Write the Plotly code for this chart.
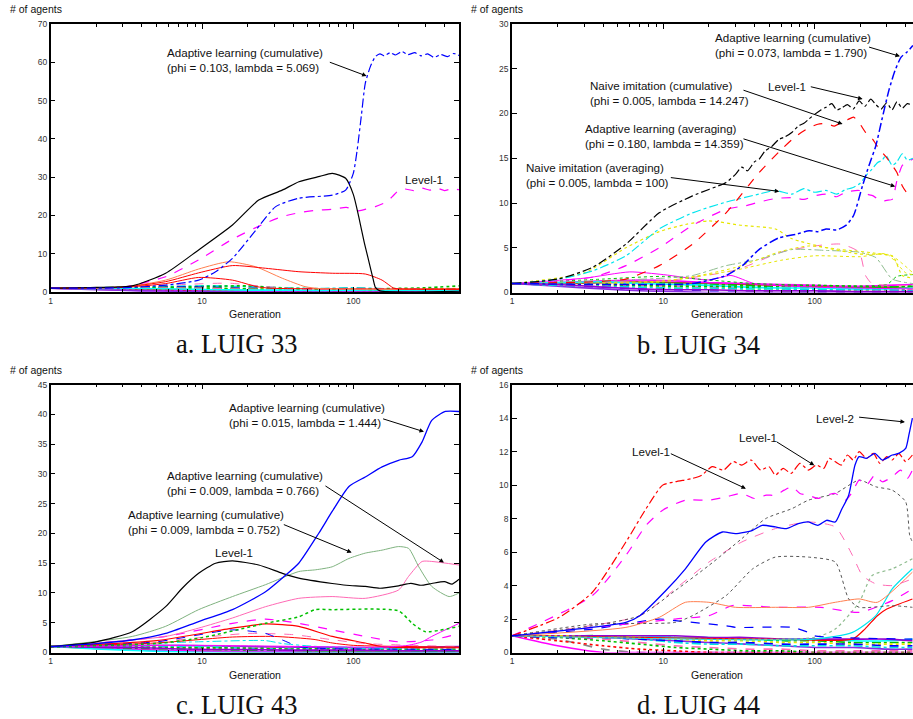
import math
import plotly.graph_objects as go

# ---------------------------------------------------------------- data
# Panel a  (LUIG 33)
A_BLUE_GEN = [1, 3, 5.75, 9.5, 12.3, 15.9, 22, 30.7, 43.7, 72.6, 89, 100, 106, 113, 120, 130, 140, 150, 160, 175, 190, 210, 230, 255, 280, 310, 340, 380, 420, 460, 500]
A_BLUE_VAL = [1.0, 1.1, 1.8, 3.1, 5.3, 8.8, 15.5, 22.3, 24.5, 25.3, 26.6, 31, 37, 46, 54.5, 59, 61.5, 62.2, 61.7, 62.5, 61.9, 62.8, 62.0, 62.5, 61.7, 62.2, 61.3, 62.0, 61.5, 62.3, 61.8]
A_BLACK_GEN = [1, 2, 3.46, 5.75, 9.5, 15.9, 23.7, 33.9, 43.7, 60, 72.6, 89, 100, 108.6, 118, 126, 135, 140, 150, 500]
A_BLACK_VAL = [1.0, 1.2, 1.6, 4.9, 11, 17.5, 24, 26.6, 28.8, 30.2, 31, 29.7, 25.5, 19.7, 13, 8.4, 3.5, 1.2, 0.3, 0.2]
A_MAG_GEN = [1, 3, 5.75, 9.5, 15.9, 26.3, 33.9, 43.7, 55, 72.6, 90, 108.6, 125, 140, 165, 181, 199, 220, 250, 280, 320, 360, 400, 450, 500]
A_MAG_VAL = [1.0, 1.3, 4.0, 8.4, 13.8, 18.0, 19.7, 20.7, 21.3, 21.6, 22.1, 21.2, 21.8, 22.3, 23.5, 24.9, 26.5, 26.9, 26.5, 27.2, 26.6, 27.1, 26.5, 27.0, 26.7]
A_CORAL_GEN = [1, 3, 5.75, 9.5, 15, 22.6, 33.9, 48, 60, 500]
A_CORAL_VAL = [1.0, 1.3, 3.1, 6.0, 7.9, 6.6, 3.6, 1.4, 0.9, 0.7]
A_RED_GEN = [1, 3, 5.75, 9.5, 15.9, 26.3, 43.7, 72.6, 120, 155, 185, 200, 500]
A_RED_VAL = [1.0, 1.3, 2.7, 5.0, 6.9, 6.2, 5.3, 4.9, 4.7, 3.1, 1.0, 0.8, 0.7]
A_RED2_GEN = [1, 3, 5.75, 9.5, 15.9, 23, 28, 500]
A_RED2_VAL = [1.0, 1.2, 2.2, 3.8, 3.1, 1.4, 1.0, 0.8]
A_PINK_GEN = [1, 4, 8, 15, 25, 40, 500]
A_PINK_VAL = [1.0, 1.4, 2.0, 2.3, 1.5, 0.9, 0.6]
A_CL_GEN = [1, 2, 4, 7, 12, 20, 35, 60, 100, 180, 300, 500]
A_CL1 = [1.0, 1.1, 1.3, 1.5, 1.6, 1.4, 1.1, 0.9, 1.1, 0.8, 0.8, 0.8]
A_CL2 = [1.0, 1.0, 1.2, 1.3, 1.5, 1.6, 1.0, 0.8, 0.7, 0.9, 1.1, 1.6]
A_CL3 = [1.0, 0.9, 0.8, 0.6, 0.5, 0.4, 0.3, 0.3, 0.2, 0.2, 0.2, 0.2]
A_CL4 = [1.0, 1.0, 0.9, 0.8, 0.9, 0.7, 0.6, 0.6, 0.5, 0.6, 0.6, 0.7]
A_CL5 = [1.0, 1.0, 1.1, 1.3, 1.2, 1.0, 0.8, 0.6, 0.5, 0.4, 0.4, 0.4]
A_CL6 = [1.0, 0.8, 0.6, 0.5, 0.4, 0.3, 0.2, 0.2, 0.1, 0.1, 0.1, 0.1]
A_CL7 = [1.0, 0.9, 0.8, 0.7, 0.7, 0.8, 0.9, 0.8, 0.7, 0.6, 0.8, 0.9]
A_CL8 = [1.0, 1.0, 0.9, 0.9, 1.0, 0.9, 0.8, 0.8, 0.9, 0.8, 0.7, 0.7]
A_CL9 = [1.0, 0.7, 0.4, 0.3, 0.2, 0.1, 0.1, 0.0, 0.0, 0.0, 0.0, 0.0]
A_CL10 = [1.0, 0.9, 0.7, 0.5, 0.4, 0.4, 0.3, 0.3, 0.3, 0.3, 0.3, 0.3]
A_CL11 = [1.0, 0.6, 0.3, 0.2, 0.1, 0.0, 0.0, 0.0, 0.0, 0.0, 0.0, 0.0]
A_CL12 = [1.0, 1.1, 1.2, 1.1, 1.0, 0.8, 0.6, 0.5, 0.5, 0.5, 0.5, 0.6]
A_CL13 = [1.0, 1.0, 1.0, 1.0, 0.9, 0.7, 0.6, 0.6, 0.6, 0.7, 0.6, 0.5]
A_CL14 = [1.0, 0.9, 0.9, 0.8, 0.6, 0.5, 0.5, 0.4, 0.5, 0.5, 0.4, 0.4]

# Panel b  (LUIG 34)
B_BLUE_GEN = [1, 5, 15.6, 26, 33.3, 42.9, 58, 75, 92, 105, 119, 140, 161, 181, 207, 230, 254, 280, 311, 340, 373, 410, 446]
B_BLUE_VAL = [1.0, 0.9, 1.0, 1.9, 3.0, 4.8, 6.1, 6.5, 6.9, 6.8, 7.1, 7.0, 7.5, 8.6, 11.9, 14.3, 16.4, 19.5, 22.7, 24.8, 26.3, 26.9, 27.6]
B_BLACK_GEN = [1, 2, 3.4, 5.66, 9.4, 15.6, 26, 30, 33, 36, 40, 43, 47, 52, 58, 64, 71, 78, 85, 92, 100, 110, 119, 130, 140, 150, 165, 180, 197, 215, 235, 254, 275, 300, 325, 350, 380, 410, 446]
B_BLACK_VAL = [1.0, 1.5, 2.8, 5.4, 8.9, 10.8, 12.3, 13.2, 14.0, 13.6, 14.6, 14.9, 15.8, 16.3, 17.1, 17.4, 17.9, 18.6, 18.9, 19.4, 19.9, 20.4, 20.7, 21.1, 20.4, 20.6, 21.0, 20.5, 21.4, 20.8, 21.6, 21.0, 20.5, 21.2, 20.4, 21.3, 20.6, 21.1, 20.9]
B_RED_GEN = [1, 3.4, 5.66, 9.4, 15.6, 26, 43, 58, 71, 82, 92, 105, 119, 135, 152, 165, 181, 200, 217, 240, 268, 295, 326, 350, 380, 410, 446]
B_RED_VAL = [1.0, 1.2, 1.5, 3.0, 5.4, 8.9, 13.4, 15.7, 17.1, 17.9, 18.4, 18.8, 18.9, 18.6, 19.1, 19.3, 19.6, 18.8, 17.9, 17.2, 16.0, 15.2, 14.2, 13.4, 11.9, 11.1, 10.8]
B_CYAN_GEN = [1, 2.05, 3.4, 5.66, 9.4, 15.6, 26, 43, 55, 71, 85, 100, 119, 140, 160, 178, 200, 217, 240, 260, 280, 296, 326, 350, 380, 410, 446]
B_CYAN_VAL = [1.0, 1.5, 2.4, 4.1, 7.1, 8.9, 10.1, 11.0, 11.4, 11.0, 11.6, 11.2, 11.4, 11.0, 11.5, 11.7, 12.2, 13.0, 13.8, 14.5, 14.8, 15.3, 14.2, 14.6, 15.5, 14.8, 15.0]
B_MAG_GEN = [1, 3.4, 5.66, 9.4, 15.6, 26, 35, 43, 55, 71, 85, 100, 119, 140, 160, 197, 220, 244, 275, 300, 326, 350, 380, 410, 446]
B_MAG_VAL = [1.0, 1.7, 3.0, 5.0, 7.5, 9.3, 9.7, 10.1, 10.5, 10.6, 10.4, 10.8, 11.0, 10.7, 11.2, 11.4, 11.0, 10.8, 10.2, 10.3, 10.4, 12.5, 14.2, 14.6, 14.9]
B_YEL1_GEN = [1, 3, 5.66, 9.4, 14, 20, 33, 55, 71, 119, 197, 326, 380, 446]
B_YEL1_VAL = [1.0, 2.2, 5.0, 6.8, 7.6, 8.0, 7.5, 7.1, 6.0, 5.0, 4.3, 4.1, 1.9, 1.6]
B_YEL2_GEN = [1, 10, 30, 60, 100, 200, 300, 400, 446]
B_YEL2_VAL = [1.0, 1.3, 2.5, 3.6, 4.1, 4.0, 4.3, 2.2, 2.0]
B_YEL3_GEN = [1, 10, 30, 60, 92, 150, 250, 330, 446]
B_YEL3_VAL = [1.0, 1.2, 2.8, 4.6, 5.2, 4.8, 4.4, 4.0, 2.2]
B_GREY_GEN = [1, 10, 15.6, 26, 43, 71, 119, 197, 254, 326, 446]
B_GREY_VAL = [1.0, 1.6, 1.9, 3.0, 3.7, 4.8, 4.7, 4.5, 3.9, 1.5, 1.0]
B_PINK_GEN = [1, 10, 30, 60, 100, 150, 197, 217, 240, 446]
B_PINK_VAL = [1.0, 1.3, 2.5, 4.5, 5.2, 5.4, 4.5, 1.9, 1.0, 0.8]
B_GREEN_GEN = [1, 4, 10, 20, 40, 100, 300, 350, 446]
B_GREEN_VAL = [1.0, 1.5, 1.8, 1.4, 1.0, 0.8, 0.9, 1.8, 2.0]
B_MAGS_GEN = [1, 3, 6, 10, 20, 28, 40, 100, 446]
B_MAGS_VAL = [1.0, 1.6, 2.3, 2.0, 1.4, 1.9, 1.0, 0.6, 0.4]
B_CL_GEN = [1, 2, 4, 7, 12, 20, 35, 60, 100, 180, 300, 446]
B_CL1 = [1.0, 0.9, 0.8, 0.7, 0.6, 0.5, 0.4, 0.3, 0.3, 0.2, 0.2, 0.2]
B_CL2 = [1.0, 0.8, 0.6, 0.4, 0.3, 0.2, 0.2, 0.1, 0.1, 0.1, 0.1, 0.1]
B_CL3 = [1.0, 1.0, 1.1, 1.2, 1.1, 1.0, 0.9, 0.8, 0.7, 0.6, 0.6, 0.5]
B_CL4 = [1.0, 1.0, 0.9, 0.9, 0.8, 0.8, 0.7, 0.7, 0.6, 0.6, 0.5, 0.5]
B_CL5 = [1.0, 0.9, 0.7, 0.5, 0.4, 0.3, 0.2, 0.1, 0.0, 0.0, 0.0, 0.0]
B_CL6 = [1.0, 1.1, 1.3, 1.4, 1.3, 1.1, 1.0, 0.9, 0.8, 0.7, 0.8, 0.9]
B_CL7 = [1.0, 0.9, 0.9, 0.8, 0.9, 0.8, 0.8, 0.7, 0.6, 0.5, 0.4, 0.4]
B_CL8 = [1.0, 0.7, 0.4, 0.2, 0.1, 0.0, 0.0, 0.0, 0.0, 0.0, 0.0, 0.0]
B_CL9 = [1.0, 1.0, 1.0, 1.1, 1.0, 0.9, 0.8, 0.6, 0.5, 0.5, 0.6, 0.7]
B_CL10 = [1.0, 0.9, 0.8, 0.8, 0.7, 0.6, 0.6, 0.5, 0.4, 0.4, 0.3, 0.3]
B_CL11 = [1.0, 1.1, 1.2, 1.0, 0.9, 0.8, 0.6, 0.5, 0.5, 0.4, 0.4, 0.5]
B_CL12 = [1.0, 0.8, 0.7, 0.6, 0.5, 0.5, 0.4, 0.4, 0.3, 0.3, 0.3, 0.2]
B_CL13 = [1.0, 1.0, 0.9, 0.8, 0.7, 0.7, 0.6, 0.7, 0.8, 0.7, 0.6, 0.7]
B_CL14 = [1.0, 0.9, 0.6, 0.4, 0.3, 0.3, 0.2, 0.2, 0.2, 0.1, 0.1, 0.1]

# Panel c  (LUIG 43)
C_BLUE_GEN = [1, 2, 3.46, 5.75, 9.5, 15.9, 26.3, 35, 43.6, 59, 72.5, 93.6, 120, 155, 199, 245, 285, 330, 406, 500]
C_BLUE_VAL = [1.0, 1.5, 2.1, 3.2, 5.2, 7.2, 10.2, 12.8, 15.0, 20.0, 23.7, 27.9, 29.5, 31.2, 32.3, 32.9, 35.4, 39.0, 40.5, 40.5]
C_GREEN_GEN = [1, 3.46, 5.75, 9.5, 15.9, 26.3, 43.6, 56.5, 72.5, 93.6, 120, 155, 199, 232, 271, 330, 430, 500]
C_GREEN_VAL = [1.0, 2.7, 4.4, 7.2, 9.4, 11.4, 13.6, 13.9, 14.4, 15.8, 16.7, 17.2, 17.8, 17.5, 14.4, 11.1, 9.4, 10.0]
C_BLACK_GEN = [1, 2, 3.46, 5.75, 7.4, 9.5, 12.3, 15.9, 23.7, 34, 43.6, 72.5, 90, 120, 150, 199, 240, 280, 330, 400, 450, 500]
C_BLACK_VAL = [1.0, 1.8, 3.5, 7.7, 10.8, 13.3, 15.0, 15.4, 14.7, 13.3, 12.5, 11.6, 11.3, 11.1, 10.8, 11.2, 11.6, 11.3, 11.6, 11.9, 11.5, 12.3]
C_PINK_GEN = [1, 5.75, 9.5, 15.9, 26.3, 43.6, 72.5, 120, 199, 232, 285, 330, 500]
C_PINK_VAL = [1.0, 2.7, 4.1, 5.8, 7.7, 9.1, 9.4, 9.1, 10.5, 12.8, 15.3, 15.3, 14.7]
C_GDOT_GEN = [1, 5, 10, 26.3, 43.6, 56, 72.5, 199, 245, 300, 500]
C_GDOT_VAL = [1.0, 1.5, 2.5, 4.9, 6.0, 7.2, 7.2, 7.0, 4.9, 3.5, 4.4]
C_MAGD_GEN = [1, 5.75, 15.9, 26.3, 43.6, 72.5, 120, 199, 330, 500]
C_MAGD_VAL = [1.0, 2.7, 4.9, 5.6, 4.9, 3.8, 2.7, 1.8, 2.1, 3.2]
C_RED1_GEN = [1, 5, 15.9, 26.3, 43.6, 72.5, 120, 155, 500]
C_RED1_VAL = [1.0, 2.0, 4.1, 4.8, 4.4, 2.7, 1.6, 1.0, 0.8]
C_RED2_GEN = [1, 5, 15.9, 30, 55, 72.5, 100, 500]
C_RED2_VAL = [1.0, 1.6, 2.6, 2.7, 2.2, 1.6, 1.2, 0.9]
C_BLUED_GEN = [1, 5, 15.9, 26.3, 34, 43.6, 60, 500]
C_BLUED_VAL = [1.0, 1.8, 3.8, 3.2, 2.1, 1.0, 0.7, 0.5]
C_MAGS_GEN = [1, 10, 50, 150, 230, 285, 330, 500]
C_MAGS_VAL = [1.0, 1.2, 1.0, 0.9, 1.2, 1.8, 2.7, 4.9]
C_CYAN_GEN = [1, 9.5, 26.3, 34, 60, 500]
C_CYAN_VAL = [1.0, 1.8, 2.0, 1.5, 1.0, 0.8]
C_PINKD_GEN = [1, 6, 20, 40, 70, 120, 500]
C_PINKD_VAL = [1.0, 2.0, 3.2, 3.0, 2.2, 1.5, 1.0]
C_CL_GEN = [1, 2, 4, 7, 12, 20, 35, 60, 100, 180, 300, 500]
C_CL1 = [1.0, 0.7, 0.4, 0.3, 0.2, 0.1, 0.1, 0.1, 0.1, 0.1, 0.1, 0.1]
C_CL2 = [1.0, 0.9, 0.8, 0.7, 0.6, 0.5, 0.5, 0.4, 0.4, 0.3, 0.3, 0.3]
C_CL3 = [1.0, 1.0, 1.1, 1.1, 1.0, 0.9, 0.8, 0.7, 0.7, 0.6, 0.6, 0.6]
C_CL4 = [1.0, 0.8, 0.5, 0.3, 0.2, 0.2, 0.1, 0.0, 0.0, 0.0, 0.0, 0.0]
C_CL5 = [1.0, 1.0, 0.9, 0.9, 0.8, 0.8, 0.9, 0.8, 0.7, 0.7, 0.8, 0.8]
C_CL6 = [1.0, 1.1, 1.2, 1.2, 1.1, 1.0, 0.9, 0.9, 0.8, 0.8, 0.9, 1.0]
C_CL7 = [1.0, 0.9, 0.7, 0.6, 0.5, 0.4, 0.4, 0.3, 0.3, 0.3, 0.2, 0.2]
C_CL8 = [1.0, 1.0, 1.0, 0.9, 0.9, 0.8, 0.7, 0.6, 0.6, 0.5, 0.5, 0.5]
C_CL9 = [1.0, 0.6, 0.3, 0.1, 0.0, 0.0, 0.0, 0.0, 0.0, 0.0, 0.0, 0.0]
C_CL10 = [1.0, 1.0, 1.1, 1.0, 0.9, 0.7, 0.6, 0.6, 0.7, 0.6, 0.5, 0.5]
C_CL11 = [1.0, 0.9, 0.9, 0.8, 0.8, 0.7, 0.6, 0.6, 0.5, 0.4, 0.4, 0.4]
C_CL12 = [1.0, 0.9, 0.8, 0.6, 0.5, 0.5, 0.4, 0.4, 0.4, 0.3, 0.3, 0.3]

# Panel d  (LUIG 44)
D_RED_GEN = [1, 2.05, 3.4, 5.66, 7.7, 9.9, 12, 15.6, 18, 21, 25, 29, 33, 38, 44, 50, 55, 62, 70, 80, 91, 103, 115, 125, 137, 150, 165, 180, 197, 220, 245, 270, 300, 326, 360, 400, 443]
D_RED_VAL = [1.0, 2.1, 3.6, 6.6, 8.6, 10.0, 10.2, 10.4, 10.6, 11.1, 10.9, 11.4, 11.2, 11.5, 10.9, 11.1, 10.6, 11.0, 10.7, 11.3, 10.9, 11.2, 11.0, 11.6, 11.4, 11.2, 11.8, 11.5, 12.0, 11.6, 11.9, 11.3, 11.7, 11.5, 11.9, 11.4, 11.8]
D_MAG_GEN = [1, 3.4, 5.66, 7.7, 9.9, 14, 20, 26, 33, 40, 48, 55, 63, 71, 80, 91, 105, 120, 137, 160, 178, 197, 220, 250, 280, 326, 370, 410, 443]
D_MAG_VAL = [1.0, 3.4, 5.8, 7.6, 8.5, 9.1, 9.1, 9.3, 9.5, 9.2, 9.4, 9.4, 9.7, 9.9, 9.5, 9.4, 9.2, 9.4, 9.5, 9.1, 9.6, 10.3, 10.0, 10.6, 10.2, 10.5, 10.9, 10.4, 10.9]
D_BLUE_GEN = [1, 5.66, 7, 10.4, 14, 19.1, 24.6, 30, 38.9, 45, 55, 65, 78, 91, 105, 120, 137, 150, 168, 185, 197, 220, 250, 280, 326, 360, 400, 420, 443]
D_BLUE_VAL = [1.0, 1.8, 2.2, 3.7, 5.0, 6.6, 7.2, 7.1, 7.3, 7.6, 7.5, 7.4, 7.7, 7.8, 7.6, 7.9, 7.8, 8.5, 9.4, 11.2, 11.7, 11.6, 11.9, 11.5, 11.8, 11.9, 12.2, 13.0, 14.0]
D_BLACK_GEN = [1, 3.4, 7, 12, 20, 33, 47.5, 71, 91, 137, 197, 254, 326, 400, 425, 443]
D_BLACK_VAL = [1.0, 1.6, 2.2, 3.7, 5.2, 6.8, 8.0, 8.6, 9.1, 9.5, 10.3, 9.9, 9.7, 9.0, 7.0, 6.6]
D_PINK_GEN = [1, 7, 12, 20, 33, 55, 91, 137, 178, 207, 254, 326, 443]
D_PINK_VAL = [1.0, 2.2, 3.8, 5.4, 6.6, 7.4, 7.8, 7.5, 5.8, 4.6, 4.1, 4.0, 4.4]
D_GREY_GEN = [1, 3.4, 12, 15.6, 26, 39, 55, 91, 137, 168, 197, 326, 443]
D_GREY_VAL = [1.0, 1.7, 1.8, 2.2, 3.4, 5.0, 5.7, 5.7, 5.4, 3.2, 2.7, 2.8, 2.7]
D_ORANGE_GEN = [1, 5.66, 9.4, 14, 20, 30, 55, 91, 137, 197, 260, 443]
D_ORANGE_VAL = [1.0, 1.5, 2.1, 3.0, 3.0, 2.7, 2.7, 2.7, 3.0, 3.2, 3.0, 4.8]
D_MAGD2_GEN = [1, 12, 20, 28.6, 55, 110, 197, 326, 443]
D_MAGD2_VAL = [1.0, 2.0, 2.2, 2.8, 2.7, 2.7, 2.4, 3.1, 3.8]
D_BLUED_GEN = [1, 3.4, 9.4, 12, 26, 30, 71, 91, 100, 443]
D_BLUED_VAL = [1.0, 1.4, 2.0, 1.9, 1.6, 1.5, 1.5, 1.2, 1.0, 0.8]
D_SEA_GEN = [1, 100, 137, 197, 240, 326, 443]
D_SEA_VAL = [1.0, 0.9, 1.4, 3.0, 4.6, 5.0, 5.6]
D_CYAN_GEN = [1, 100, 178, 254, 326, 443]
D_CYAN_VAL = [1.0, 0.8, 1.2, 2.2, 3.8, 5.0]
D_RED2_GEN = [1, 50, 178, 215, 260, 300, 443]
D_RED2_VAL = [1.0, 0.8, 0.8, 1.4, 2.2, 2.6, 3.2]
D_CL_GEN = [1, 2, 4, 7, 12, 20, 35, 60, 100, 180, 300, 443]
D_CL1 = [1.0, 0.8, 0.2, 0.0, 0.0, 0.0, 0.0, 0.0, 0.0, 0.0, 0.0, 0.0]
D_CL2 = [1.0, 0.4, 0.0, 0.0, 0.0, 0.0, 0.0, 0.0, 0.0, 0.0, 0.0, 0.0]
D_CL3 = [1.0, 0.7, 0.4, 0.2, 0.1, 0.0, 0.0, 0.0, 0.0, 0.0, 0.0, 0.0]
D_CL4 = [1.0, 1.0, 0.9, 0.8, 0.7, 0.6, 0.5, 0.4, 0.3, 0.3, 0.2, 0.2]
D_CL5 = [1.0, 1.0, 1.0, 0.9, 0.9, 0.8, 0.8, 0.7, 0.7, 0.6, 0.6, 0.6]
D_CL6 = [1.0, 0.9, 0.8, 0.6, 0.4, 0.3, 0.2, 0.2, 0.1, 0.1, 0.1, 0.1]
D_CL7 = [1.0, 1.0, 1.0, 1.0, 0.9, 0.9, 0.8, 0.8, 0.8, 0.7, 0.7, 0.8]
D_CL8 = [1.0, 1.0, 0.9, 0.8, 0.6, 0.5, 0.5, 0.4, 0.4, 0.4, 0.3, 0.3]
D_CL9 = [1.0, 0.9, 0.7, 0.5, 0.3, 0.2, 0.1, 0.1, 0.0, 0.0, 0.0, 0.0]
D_CL10 = [1.0, 1.0, 1.0, 1.0, 1.0, 0.9, 0.9, 0.8, 0.8, 0.8, 0.8, 0.7]
D_CL11 = [1.0, 1.0, 0.9, 0.9, 0.8, 0.7, 0.7, 0.6, 0.6, 0.5, 0.5, 0.5]
D_CL12 = [1.0, 0.9, 0.9, 0.8, 0.7, 0.6, 0.6, 0.5, 0.5, 0.5, 0.4, 0.4]

X_TICKS = [1, 10, 100]
X_MINOR = [2, 3, 4, 5, 6, 7, 8, 9, 20, 30, 40, 50, 60, 70, 80, 90, 200, 300, 400, 500]
Y_MAX = {"a": 70, "b": 30, "c": 45, "d": 16}
Y_STEP = {"a": 10, "b": 5, "c": 5, "d": 2}
CAPTIONS = {"a": "a. LUIG 33", "b": "b. LUIG 34", "c": "c. LUIG 43", "d": "d. LUIG 44"}

# ---------------------------------------------------------------- layout geometry (pixels)
W, H = 913, 719
DECADE = 151.3
GEOM = {
    "a": dict(x0=50.7, x1=459.0, top=24.0, bot=292.0, k=""),
    "b": dict(x0=512.0, x1=913.0, top=24.0, bot=292.5, k="2"),
    "c": dict(x0=50.7, x1=459.0, top=384.7, bot=652.5, k="3"),
    "d": dict(x0=512.0, x1=913.0, top=384.7, bot=652.5, k="4"),
}

fig = go.Figure()


def line(p, gens, vals, color, dash="solid", width=1.0):
    k = GEOM[p]["k"]
    fig.add_trace(go.Scatter(x=gens, y=vals, mode="lines", xaxis="x" + k, yaxis="y" + k,
                             line=dict(color=color, dash=dash, width=width, shape="spline", smoothing=0.6),
                             hoverinfo="skip"))


# clutter lines first
CL_STYLE = [("#00e0e0", "dashdot"), ("#00c000", "dot"), ("#9400d3", "solid"), ("#e6e600", "dot"),
            ("#0000ff", "dash"), ("#a0522d", "solid"), ("#ffa500", "dot"), ("#888888", "dash"),
            ("#ff00ff", "solid"), ("#ff0000", "dot"), ("#8a2be2", "solid"), ("#00c000", "dashdot"),
            ("#ff69b4", "dash"), ("#00ffff", "solid")]
CLW = 1.6
for i, v in enumerate([A_CL1, A_CL2, A_CL3, A_CL4, A_CL5, A_CL6, A_CL7, A_CL8, A_CL9, A_CL10, A_CL11, A_CL12, A_CL13, A_CL14]):
    c, d = CL_STYLE[i % len(CL_STYLE)]
    line("a", A_CL_GEN, v, c, d, CLW)
for i, v in enumerate([B_CL1, B_CL2, B_CL3, B_CL4, B_CL5, B_CL6, B_CL7, B_CL8, B_CL9, B_CL10, B_CL11, B_CL12, B_CL13, B_CL14]):
    c, d = CL_STYLE[(i + 3) % len(CL_STYLE)]
    line("b", B_CL_GEN, v, c, d, CLW)
for i, v in enumerate([C_CL1, C_CL2, C_CL3, C_CL4, C_CL5, C_CL6, C_CL7, C_CL8, C_CL9, C_CL10, C_CL11, C_CL12]):
    c, d = CL_STYLE[(i + 5) % len(CL_STYLE)]
    line("c", C_CL_GEN, v, c, d, CLW)
for i, v in enumerate([D_CL1, D_CL2, D_CL3, D_CL4, D_CL5, D_CL6, D_CL7, D_CL8, D_CL9, D_CL10, D_CL11, D_CL12]):
    c, d = CL_STYLE[(i + 7) % len(CL_STYLE)]
    line("d", D_CL_GEN, v, c, d, CLW)

# panel a
line("a", A_PINK_GEN, A_PINK_VAL, "#ff69b4", "dash")
line("a", A_RED2_GEN, A_RED2_VAL, "#ff0000")
line("a", A_CORAL_GEN, A_CORAL_VAL, "#ff7f50")
line("a", A_RED_GEN, A_RED_VAL, "#ff0000")
line("a", A_MAG_GEN, A_MAG_VAL, "#ff00ff", "dash", 1.2)
line("a", A_BLACK_GEN, A_BLACK_VAL, "#000000", "solid", 1.2)
line("a", A_BLUE_GEN, A_BLUE_VAL, "#0000ff", "dashdot", 1.2)
# panel b
line("b", B_MAGS_GEN, B_MAGS_VAL, "#ff00ff")
line("b", B_GREEN_GEN, B_GREEN_VAL, "#00c000", "dot")
line("b", B_PINK_GEN, B_PINK_VAL, "#ff69b4", "dash")
line("b", B_GREY_GEN, B_GREY_VAL, "#8fbc8f", "dashdot")
line("b", B_YEL3_GEN, B_YEL3_VAL, "#e6e600", "dot")
line("b", B_YEL2_GEN, B_YEL2_VAL, "#e6e600", "dot")
line("b", B_YEL1_GEN, B_YEL1_VAL, "#e6e600", "dot", 1.2)
line("b", B_MAG_GEN, B_MAG_VAL, "#ff00ff", "dash", 1.2)
line("b", B_CYAN_GEN, B_CYAN_VAL, "#00e5ee", "dashdot", 1.2)
line("b", B_RED_GEN, B_RED_VAL, "#ff0000", "dash", 1.2)
line("b", B_BLACK_GEN, B_BLACK_VAL, "#000000", "dashdot", 1.2)
line("b", B_BLUE_GEN, B_BLUE_VAL, "#0000ff", "dashdot", 1.5)
# panel c
line("c", C_CYAN_GEN, C_CYAN_VAL, "#00e5ee", "dashdot")
line("c", C_PINKD_GEN, C_PINKD_VAL, "#ff69b4", "dash")
line("c", C_RED2_GEN, C_RED2_VAL, "#ff0000")
line("c", C_BLUED_GEN, C_BLUED_VAL, "#0000ff", "dash")
line("c", C_RED1_GEN, C_RED1_VAL, "#ff0000", "solid", 1.2)
line("c", C_MAGS_GEN, C_MAGS_VAL, "#ff00ff")
line("c", C_MAGD_GEN, C_MAGD_VAL, "#ff00ff", "dash", 1.2)
line("c", C_GDOT_GEN, C_GDOT_VAL, "#00c000", "dot", 1.5)
line("c", C_PINK_GEN, C_PINK_VAL, "#ff69b4")
line("c", C_GREEN_GEN, C_GREEN_VAL, "#7fb27f")
line("c", C_BLACK_GEN, C_BLACK_VAL, "#000000", "solid", 1.2)
line("c", C_BLUE_GEN, C_BLUE_VAL, "#0000ff", "solid", 1.3)
# panel d
line("d", D_RED2_GEN, D_RED2_VAL, "#ff0000", "solid", 1.2)
line("d", D_CYAN_GEN, D_CYAN_VAL, "#00e5ee", "solid", 1.2)
line("d", D_SEA_GEN, D_SEA_VAL, "#8fbc8f", "dot", 1.2)
line("d", D_BLUED_GEN, D_BLUED_VAL, "#0000ff", "dash", 1.2)
line("d", D_MAGD2_GEN, D_MAGD2_VAL, "#ff00ff", "dash", 1.2)
line("d", D_ORANGE_GEN, D_ORANGE_VAL, "#ff7f50")
line("d", D_GREY_GEN, D_GREY_VAL, "#555555", "dot")
line("d", D_PINK_GEN, D_PINK_VAL, "#ff69b4", "dash")
line("d", D_BLACK_GEN, D_BLACK_VAL, "#555555", "dot")
line("d", D_MAG_GEN, D_MAG_VAL, "#ff00ff", "dash", 1.2)
line("d", D_RED_GEN, D_RED_VAL, "#ff0000", "dashdot", 1.2)
line("d", D_BLUE_GEN, D_BLUE_VAL, "#0000ff", "solid", 1.3)

# ---------------------------------------------------------------- axes
TICKFONT = dict(family="Liberation Sans, Arial, sans-serif", size=8.5, color="#333333")
layout = dict(width=W, height=H, margin=dict(l=0, r=0, t=0, b=0, autoexpand=False), showlegend=False,
              paper_bgcolor="white", plot_bgcolor="white")
for p, g in GEOM.items():
    k = g["k"]
    right_cut = g["x1"] >= W - 0.5
    xr = (g["x1"] - g["x0"]) / DECADE
    layout["xaxis" + k] = dict(
        type="log", domain=[g["x0"] / W, g["x1"] / W], range=[0, xr], anchor="y" + k,
        tickmode="array", tickvals=X_TICKS, ticktext=[str(t) for t in X_TICKS],
        ticks="inside", ticklen=5, tickwidth=1, tickcolor="black",
        minor=dict(tickmode="array", tickvals=X_MINOR, ticks="inside", ticklen=3, tickcolor="black", showgrid=False),
        showline=True, linecolor="black", linewidth=1.5, mirror="ticks",
        showgrid=False, zeroline=False, tickfont=TICKFONT, fixedrange=True)
    layout["yaxis" + k] = dict(
        domain=[1 - g["bot"] / H, 1 - g["top"] / H], range=[0, Y_MAX[p]], anchor="x" + k,
        tickmode="linear", tick0=0, dtick=Y_STEP[p],
        ticks="inside", ticklen=5, tickwidth=1, tickcolor="black",
        showline=True, linecolor="black", linewidth=1.5, mirror=False if right_cut else "ticks",
        showgrid=False, zeroline=False, tickfont=TICKFONT, fixedrange=True)
fig.update_layout(**layout)

# ---------------------------------------------------------------- texts
LBL = dict(family="Liberation Sans, Arial, sans-serif", size=11.6, color="#111111")
AXT = dict(family="Liberation Sans, Arial, sans-serif", size=10.5, color="#111111")
CAP = dict(family="Liberation Serif, Times New Roman, serif", size=26.5, color="#111111")
ann = []


def text(p, lx, y, s, xanchor="left"):
    k = GEOM[p]["k"]
    ann.append(dict(xref="x" + k, yref="y" + k, x=lx, y=y, text=s, showarrow=False,
                    xanchor=xanchor, yanchor="middle", align="left", font=LBL))


def arrow(p, tx, ty, hx, hy):
    k = GEOM[p]["k"]
    ann.append(dict(xref="x" + k, yref="y" + k, axref="x" + k, ayref="y" + k,
                    x=hx, y=hy, ax=tx, ay=ty, text="", showarrow=True,
                    arrowhead=2, arrowsize=0.9, arrowwidth=1, arrowcolor="black", standoff=0))


# x in log10(generation) units
text("a", 0.753, 60.5, "Adaptive learning (cumulative)<br>(phi = 0.103, lambda = 5.069)")
arrow("a", 1.835, 60.16, 2.088, 56.42)
text("a", 2.467, 29.5, "Level-1", "center")

text("b", 1.330, 27.62, "Adaptive learning (cumulative)<br>(phi = 0.073, lambda = 1.790)")
arrow("b", 2.350, 27.47, 2.564, 26.39)
text("b", 0.500, 22.29, "Naive imitation (cumulative)<br>(phi = 0.005, lambda = 14.247)")
arrow("b", 1.520, 22.66, 2.185, 18.82)
text("b", 1.678, 23.03, "Level-1")
arrow("b", 1.965, 23.03, 2.317, 21.62)
text("b", 0.467, 17.48, "Adaptive learning (averaging)<br>(phi = 0.180, lambda = 14.359)")
arrow("b", 1.520, 17.22, 2.533, 11.85)
text("b", 0.0815, 13.12, "Naive imitation (averaging)<br>(phi = 0.005, lambda = 100)")
arrow("b", 1.040, 12.86, 1.767, 11.29)

text("c", 1.167, 39.84, "Adaptive learning (cumulative)<br>(phi = 0.015, lambda = 1.444)")
arrow("c", 2.187, 39.34, 2.467, 37.10)
text("c", 0.753, 28.43, "Adaptive learning (cumulative)<br>(phi = 0.009, lambda = 0.766)")
arrow("c", 1.806, 28.15, 2.599, 15.11)
text("c", 0.4956, 21.88, "Adaptive learning (cumulative)<br>(phi = 0.009, lambda = 0.752)")
arrow("c", 1.531, 21.60, 1.989, 16.79)
text("c", 1.073, 16.84, "Level-1")

text("d", 1.993, 13.97, "Level-2")
arrow("d", 2.284, 14.07, 2.597, 13.77)
text("d", 1.487, 12.84, "Level-1")
arrow("d", 1.740, 12.64, 1.998, 11.18)
text("d", 0.782, 12.02, "Level-1")
arrow("d", 1.040, 11.92, 1.546, 9.79)

# axis titles and captions (paper coordinates from pixel positions)
for p, g in GEOM.items():
    ann.append(dict(xref="paper", yref="paper", x=(g["x0"] - 43) / W, y=1 - (g["top"] - 15) / H,
                    text="# of agents", showarrow=False, xanchor="left", yanchor="middle", font=AXT))
    cx = g["x0"] + 204.5
    ann.append(dict(xref="paper", yref="paper", x=cx / W, y=1 - (g["bot"] + 22) / H,
                    text="Generation", showarrow=False, xanchor="center", yanchor="middle", font=AXT))
    ann.append(dict(xref="paper", yref="paper", x=(cx - 18.5) / W, y=1 - (g["bot"] + 52) / H,
                    text=CAPTIONS[p], showarrow=False, xanchor="center", yanchor="middle", font=CAP))

fig.update_layout(annotations=ann)
fig.write_html("out.html", config={"displayModeBar": False},
               post_script="document.body.style.margin='0';document.body.style.padding='0';"
                           "document.body.style.overflow='hidden';")
